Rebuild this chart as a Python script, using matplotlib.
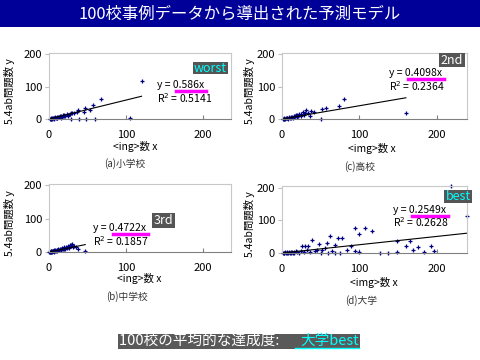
import matplotlib
matplotlib.use('Agg')
import matplotlib.pyplot as plt
from matplotlib.patches import Rectangle
from matplotlib.lines import Line2D

plt.rcParams['font.family'] = ['Noto Sans CJK JP', 'DejaVu Sans']

title = '100校事例データから導出された予測モデル'
footer_a = '100校の平均的な達成度: '
footer_b = '大学best'

# (a) 小学校
a_x = [1, 2, 2, 3, 4, 4, 5, 6, 6, 7, 8, 9, 10, 10, 11, 12, 13, 14, 15, 16,
       17, 18, 19, 20, 21, 23, 24, 25, 27, 28, 29, 30, 33, 36, 38, 39, 45, 47, 48, 53,
       57, 59, 68, 105, 120]
a_y = [0, 1, 2, 1, 0, 3, 2, 4, 1, 3, 5, 2, 6, 4, 3, 7, 5, 8, 4, 9,
       6, 11, 8, 12, 10, 14, 13, 9, 16, 0, 20, 17, 19, 22, 28, 0, 23, 33, 0, 28,
       43, 0, 61, 2, 118]
# (c) 高校
c_x = [1, 2, 3, 3, 4, 5, 6, 7, 8, 9, 10, 11, 12, 13, 14, 15, 16, 17, 18, 19,
       20, 21, 22, 24, 25, 27, 28, 30, 31, 33, 36, 37, 41, 51, 52, 57, 74, 80, 160]
c_y = [0, 1, 0, 2, 1, 3, 2, 4, 1, 5, 3, 6, 2, 7, 4, 9, 5, 8, 11, 6,
       12, 10, 14, 8, 16, 23, 13, 18, 28, 20, 10, 25, 23, 0, 31, 34, 40, 61, 19]
# (b) 中学校
b_x = [0, 1, 1, 2, 2, 3, 3, 4, 4, 5, 5, 6, 6, 7, 7, 8, 8, 9, 10, 10,
       11, 12, 12, 13, 14, 15, 15, 16, 17, 18, 19, 20, 20, 21, 22, 23, 24, 25, 26, 27,
       28, 29, 30, 31, 33, 35, 38, 47]
b_y = [0, 0, 1, 1, 2, 0, 2, 1, 3, 2, 4, 1, 3, 5, 2, 4, 6, 3, 5, 7,
       4, 8, 6, 5, 9, 7, 10, 6, 11, 8, 12, 10, 14, 9, 15, 13, 16, 18, 12, 20,
       17, 22, 24, 15, 19, 14, 8, 2]
# (d) 大学
d_x = [1, 2, 3, 4, 5, 6, 7, 8, 9, 10, 11, 12, 13, 14, 15, 16, 18, 20, 22, 24,
       26, 28, 30, 32, 34, 36, 39, 42, 45, 48, 50, 52, 55, 58, 60, 62, 65, 68, 68, 72,
       75, 78, 84, 89, 94, 94, 99, 100, 107, 116, 126, 137, 148, 148, 160, 165, 169, 176, 183, 192,
       196, 218, 239]
d_y = [0, 1, 0, 2, 1, 0, 2, 1, 3, 0, 2, 1, 4, 0, 3, 1, 5, 2, 0, 6,
       20, 3, 22, 8, 20, 2, 41, 5, 10, 28, 0, 8, 15, 31, 0, 51, 5, 25, 1, 46,
       1, 46, 8, 20, 7, 78, 3, 59, 76, 69, 1, 1, 36, 3, 20, 36, 9, 17, 2, 20,
       7, 205, 114]

slopes = ['0.586', '0.4098', '0.4722', '0.2549']
r2 = ['0.5141', '0.2364', '0.1857', '0.2628']
ranks = ['worst', '2nd', '3rd', 'best']
captions = ['(a)小学校', '(c)高校', '(b)中学校', '(d)大学']
xlabels = ['<ing>数 x', '<img>数 x', '<ing>数 x', '<img>数 x']

W, H = 480, 360
fig = plt.figure(figsize=(4.8, 3.6), dpi=100)


def fx(px):
    return px / W


def fy(py):
    return 1 - py / H


# title banner
fig.patches.append(Rectangle((0, fy(27)), 1, 27 / H, transform=fig.transFigure,
                             facecolor='#000099', edgecolor='none'))
fig.text(0.5, fy(14), title, color='white', fontsize=11.8, ha='center', va='center')

# panel boxes in pixels: left, right, top, bottom, xmax, ymax
boxes = [(49, 231, 53, 119, 236, 204),
         (282, 467, 53, 119, 239, 204),
         (49, 231, 184, 252, 236, 204),
         (282, 467, 186, 253, 239, 206)]
data = [(a_x, a_y), (c_x, c_y), (b_x, b_y), (d_x, d_y)]
# eq left, eq y, r2 y, bar x0, bar x1, bar y, rank box, xlabel pos, caption pos, ylabel x
texts = [(157, 85, 98, 176, 206, 91, (193, 228, 62, 74), (135, 146), (125, 164), 10),
         (389, 73, 86, 408, 444, 79, (439, 465, 53, 67), (372, 148), (360, 167), 249),
         (93, 228, 241, 113, 148, 234, (152, 175, 213, 228), (139, 279), (127, 297), 10),
         (393, 210, 222, 412, 448, 216, (444, 472, 190, 203), (374, 282), (361, 301), 249)]
rank_colors = ['#00ffff', 'white', 'white', '#00ffff']

for i in range(4):
    l, r, t, b, xmax, ymax = boxes[i]
    ax = fig.add_axes([fx(l), fy(b), (r - l) / W, (b - t) / H])
    xs, ys = data[i]
    k = float(slopes[i])
    ax.plot(xs, ys, '+', color='#000080', ms=2.5, mew=0.9, clip_on=False)
    xe = max(xs)
    ax.plot([0, xe], [0, k * xe], color='black', lw=0.8)
    ax.set_xlim(0, xmax)
    ax.set_ylim(0, ymax)
    ax.set_xticks([0, 100, 200])
    ax.set_yticks([0, 100, 200])
    ax.tick_params(axis='x', direction='in', length=3, color='#808080', labelsize=8, pad=8)
    ax.tick_params(axis='y', direction='out', length=3, color='#bfbfbf', labelsize=8, pad=2)
    for s in ['left', 'top', 'right']:
        ax.spines[s].set_color('#c8c8c8')
        ax.spines[s].set_linewidth(0.8)
    ax.spines['bottom'].set_color('#808080')
    ax.spines['bottom'].set_linewidth(0.8)

    ex, ey, ry, bx0, bx1, by, rb, xl, cap, ylx = texts[i]
    fig.text(fx(ex), fy(ey), 'y = %sx' % slopes[i], fontsize=7.5, ha='left', va='center')
    fig.text(fx(ex), fy(ry), 'R$^2$ = %s' % r2[i], fontsize=7.5, ha='left', va='center')
    fig.add_artist(Line2D([fx(bx0), fx(bx1)], [fy(by), fy(by)], color='#ff00ff', lw=2.5,
                          transform=fig.transFigure))
    x0, x1, y0, y1 = rb
    fig.patches.append(Rectangle((fx(x0), fy(y1)), (x1 - x0) / W, (y1 - y0) / H,
                                 transform=fig.transFigure, facecolor='#555555',
                                 edgecolor='none'))
    fig.text(fx((x0 + x1) / 2), fy((y0 + y1) / 2), ranks[i], color=rank_colors[i],
             fontsize=9, ha='center', va='center')
    fig.text(fx(xl[0]), fy(xl[1]), xlabels[i], fontsize=7.5, ha='center', va='center')
    fig.text(fx(cap[0]), fy(cap[1]), captions[i], fontsize=7, color='#333333',
             ha='center', va='center')
    fig.text(fx(ylx), fy((t + b) / 2 + 5), '5.4ab問題数 y', fontsize=7.5, rotation=90,
             ha='center', va='center')

# footer
fig.patches.append(Rectangle((fx(118), fy(349)), 242 / W, 15 / H, transform=fig.transFigure,
                             facecolor='#595959', edgecolor='none'))
fig.text(fx(119), fy(341), footer_a, color='white', fontsize=10.5, ha='left', va='center')
fig.text(fx(359), fy(341), footer_b, color='#00ffff', fontsize=10.5, ha='right', va='center')
fig.add_artist(Line2D([fx(295), fx(359)], [fy(348), fy(348)], color='#00ffff', lw=1,
                      transform=fig.transFigure))

fig.savefig('out.png', dpi=100)
